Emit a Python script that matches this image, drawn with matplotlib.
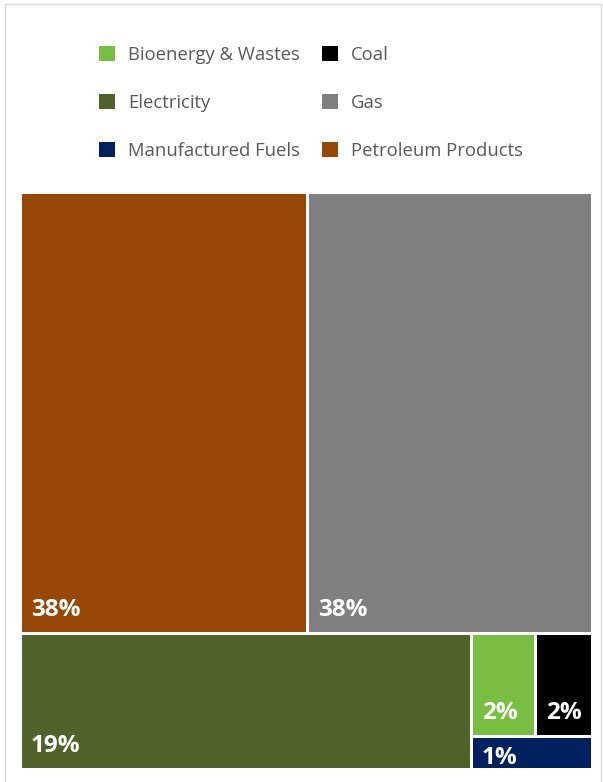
import matplotlib

matplotlib.use("Agg")

import matplotlib.pyplot as plt
from matplotlib.patches import Rectangle, Patch

# share of energy consumption by fuel (%)
fuels = ["Petroleum Products", "Gas", "Electricity", "Bioenergy & Wastes", "Coal", "Manufactured Fuels"]
shares = [38.3, 38.0, 18.6, 2.0, 1.8, 1.2]
colors = ["#974706", "#808080", "#4F6228", "#77BE43", "#000000", "#002060"]

legend_order = ["Bioenergy & Wastes", "Electricity", "Manufactured Fuels",
                "Coal", "Gas", "Petroleum Products"]


def worst(row, side):
    s = sum(row)
    return max(max(side * side * r / (s * s), s * s / (side * side * r)) for r in row)


def squarify(values, x, y, w, h):
    """Squarified treemap, y grows downward."""
    scale = w * h / sum(values)
    areas = [v * scale for v in values]
    rects = []
    i = 0
    while i < len(areas):
        side = min(w, h)
        row = [areas[i]]
        i += 1
        while i < len(areas) and worst(row + [areas[i]], side) <= worst(row, side):
            row.append(areas[i])
            i += 1
        s = sum(row)
        if w <= h:
            rh = s / w
            cx = x
            for a in row:
                rects.append((cx, y, a / rh, rh))
                cx += a / rh
            y += rh
            h -= rh
        else:
            cw = s / h
            cy = y
            for a in row:
                rects.append((x, cy, cw, a / cw))
                cy += a / cw
            x += cw
            w -= cw
    return rects


fig = plt.figure(figsize=(6.03, 7.82), dpi=100)
ax = fig.add_axes([0, 0, 1, 1])
ax.set_xlim(0, 603)
ax.set_ylim(782, 0)
ax.axis("off")

# outer chart border
ax.add_patch(Rectangle((5, 4), 596, 800, fill=False, edgecolor="#d9d9d9", lw=1))

gap = 1.5
rects = squarify(shares, 22 - gap, 194 - gap, 569 + 2 * gap, 574 + 2 * gap)
for (x, y, w, h), v, c in zip(rects, shares, colors):
    x, y, w, h = x + gap, y + gap, w - 2 * gap, h - 2 * gap
    ax.add_patch(Rectangle((x, y), w, h, facecolor=c, edgecolor="none"))
    # labels are clipped to the inner (padded) area of each tile
    clip = Rectangle((x, y), w, h - 9, transform=ax.transData)
    if h > 50:
        t = ax.text(x + 9, y + h - 16, f"{v:.0f}%", color="white", fontsize=17.5,
                    fontweight="bold", family=["Open Sans", "DejaVu Sans"],
                    ha="left", va="baseline")
    else:
        t = ax.text(x + 9, y + 8, f"{v:.0f}%", color="white", fontsize=17.5,
                    fontweight="bold", family=["Open Sans", "DejaVu Sans"],
                    ha="left", va="top")
    t.set_clip_path(clip)

handles = [Patch(facecolor=colors[fuels.index(n)], edgecolor="none", label=n)
           for n in legend_order]
ax.legend(handles=handles, ncol=2, loc="upper left", bbox_to_anchor=(99, 46),
          bbox_transform=ax.transData, frameon=False, borderpad=0, borderaxespad=0,
          handlelength=0.85, handleheight=0.85, handletextpad=0.72,
          labelspacing=1.63, columnspacing=1.2,
          prop={"family": ["Open Sans", "DejaVu Sans"], "size": 13.3},
          labelcolor="#595959")

fig.savefig("out.png", dpi=100)
plt.close(fig)
